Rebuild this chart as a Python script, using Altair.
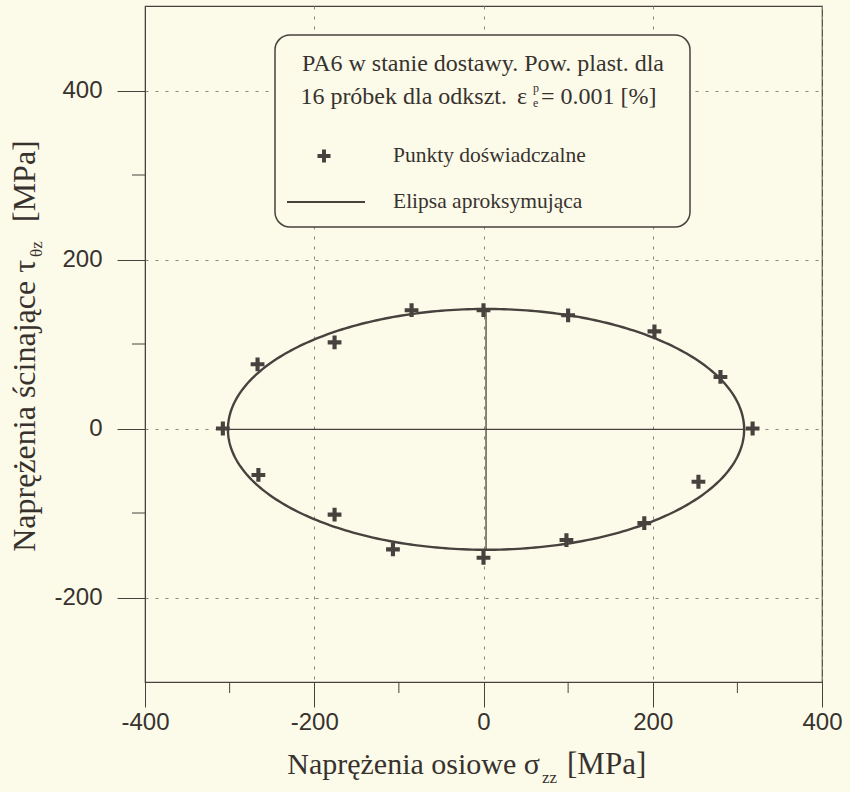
import altair as alt
import numpy as np
import pandas as pd

# Experimental yield points: axial stress sigma_zz and shear stress tau [MPa]
sigma_zz = [-308, -267, -176, -85, 0, 100, 202, 280, 318, 254, 190, 98, 0, -107, -176, -266]
tau_sh = [0, 76, 102, 140, 140, 134, 115, 61, 0, -63, -112, -132, -153, -143, -102, -55]

# Fitted (approximating) ellipse: centre and semi-axes [MPa]
ellipse_center = (3, -1)
ellipse_semi_axes = (305, 142.5)

x_major = [-400, -200, 0, 200, 400]
x_minor = [-300, -100, 100, 300]
y_major = [-200, 0, 200, 400]
y_minor = [-100, 100, 300]

BG = "#fcfbe9"
INK = "#38322e"
LINE = "#48423e"
GRID = "#8a8580"
SERIF = "Liberation Serif"
SANS = "Liberation Sans"

W, H = 677, 676

points = pd.DataFrame({"x": sigma_zz, "y": tau_sh})

cx, cy = ellipse_center
a, b = ellipse_semi_axes
t = np.linspace(0, 2 * np.pi, 361)
ellipse = pd.DataFrame({"x": cx + a * np.cos(t), "y": cy + b * np.sin(t), "o": np.arange(len(t))})

xs = alt.Scale(domain=[-400, 400], nice=False, zero=False)
ys = alt.Scale(domain=[-300, 500], nice=False, zero=False)
common_axis = dict(title=None, grid=True, gridDash=[3, 7], gridColor=GRID, gridWidth=1,
                   tickColor=LINE, domainColor=LINE, labelFont=SANS, labelFontSize=24,
                   labelColor=INK, labelFlush=False, labelOverlap=False,
                   labelExpr="'' + datum.value")
xa = alt.Axis(values=x_major, tickSize=25, labelPadding=3, **common_axis)
ya = alt.Axis(values=y_major, tickSize=28, labelPadding=15, **common_axis)


def X(field):
    return alt.X(field, type="quantitative", scale=xs, axis=xa)


def Y(field):
    return alt.Y(field, type="quantitative", scale=ys, axis=ya)


one = pd.DataFrame({"k": [0]})

cross = "M-1,-0.3H-0.3V-1H0.3V-0.3H1V0.3H0.3V1H-0.3V0.3H-1Z"

# fitted ellipse
curve = alt.Chart(ellipse).mark_line(color=LINE, strokeWidth=2.4).encode(
    x=X("x"), y=Y("y"), order="o:Q")

# principal axes of the ellipse
axes_df = pd.DataFrame({"x": [cx - a, cx], "x2": [cx + a, cx],
                        "y": [cy, cy - b], "y2": [cy, cy + b]})
principal = alt.Chart(axes_df).mark_rule(color=LINE, strokeWidth=1.3).encode(
    x=X("x"), x2="x2", y=Y("y"), y2="y2")

pts = alt.Chart(points).mark_point(shape=cross, filled=True, size=190, color=LINE,
                                   opacity=1).encode(x=X("x"), y=Y("y"))

# minor ticks
xminor = alt.Chart(pd.DataFrame({"x": x_minor})).mark_rule(color=LINE).encode(
    x=X("x"), y=alt.value(H), y2=alt.value(H + 11))
yminor = alt.Chart(pd.DataFrame({"y": y_minor})).mark_rule(color=LINE).encode(
    y=Y("y"), x=alt.value(0), x2=alt.value(-13))

# legend box
box = alt.Chart(one).mark_rect(fill=BG, stroke=LINE, strokeWidth=1.5, cornerRadius=15).encode(
    x=alt.value(130), x2=alt.value(545), y=alt.value(29), y2=alt.value(221))


def txt(s, x, y, size, align="left", baseline="middle", angle=0):
    return alt.Chart(one).mark_text(text=s, font=SERIF, fontSize=size, color=INK,
                                    align=align, baseline=baseline, angle=angle).encode(
        x=alt.value(x), y=alt.value(y))


labels = [
    txt("PA6 w stanie dostawy. Pow. plast. dla", 338, 58, 24, align="center"),
    txt("16 próbek dla odkszt.", 362, 91, 24, align="right"),
    txt("ε", 372, 91, 24),
    txt("p", 388, 82, 12),
    txt("e", 388, 97, 12),
    txt("= 0.001 [%]", 396, 91, 24),
    txt("Punkty doświadczalne", 248, 150, 21.5),
    txt("Elipsa aproksymująca", 248, 196, 21.5),
    # x axis title
    txt("Naprężenia osiowe  σ", 395, 768, 30, align="right", baseline="alphabetic"),
    txt("zz", 397, 777, 17, baseline="alphabetic"),
    txt("[MPa]", 422, 768, 31, baseline="alphabetic"),
    # y axis title
    txt("Naprężenia ścinające  τ", -110, 254, 32, align="right", baseline="alphabetic", angle=270),
    txt("θz", -103, 251, 17, baseline="alphabetic", angle=270),
    txt("[MPa]", -110, 216, 32, baseline="alphabetic", angle=270),
]

leg_cross = alt.Chart(one).mark_point(shape=cross, filled=True, size=170, color=LINE,
                                      opacity=1).encode(x=alt.value(179), y=alt.value(150))
leg_line = alt.Chart(one).mark_rule(color=LINE, strokeWidth=2).encode(
    x=alt.value(142), x2=alt.value(220), y=alt.value(196))

chart = alt.layer(
    curve, principal, pts, xminor, yminor, box, leg_cross, leg_line, *labels
).properties(
    width=W, height=H, background=BG,
    padding={"left": 145, "top": 6, "right": 28, "bottom": 110},
    autosize=alt.AutoSizeParams(type="none"),
).configure_view(stroke=LINE, strokeWidth=1.2)

chart.save("out.html", embed_options={"renderer": "svg", "actions": False})
